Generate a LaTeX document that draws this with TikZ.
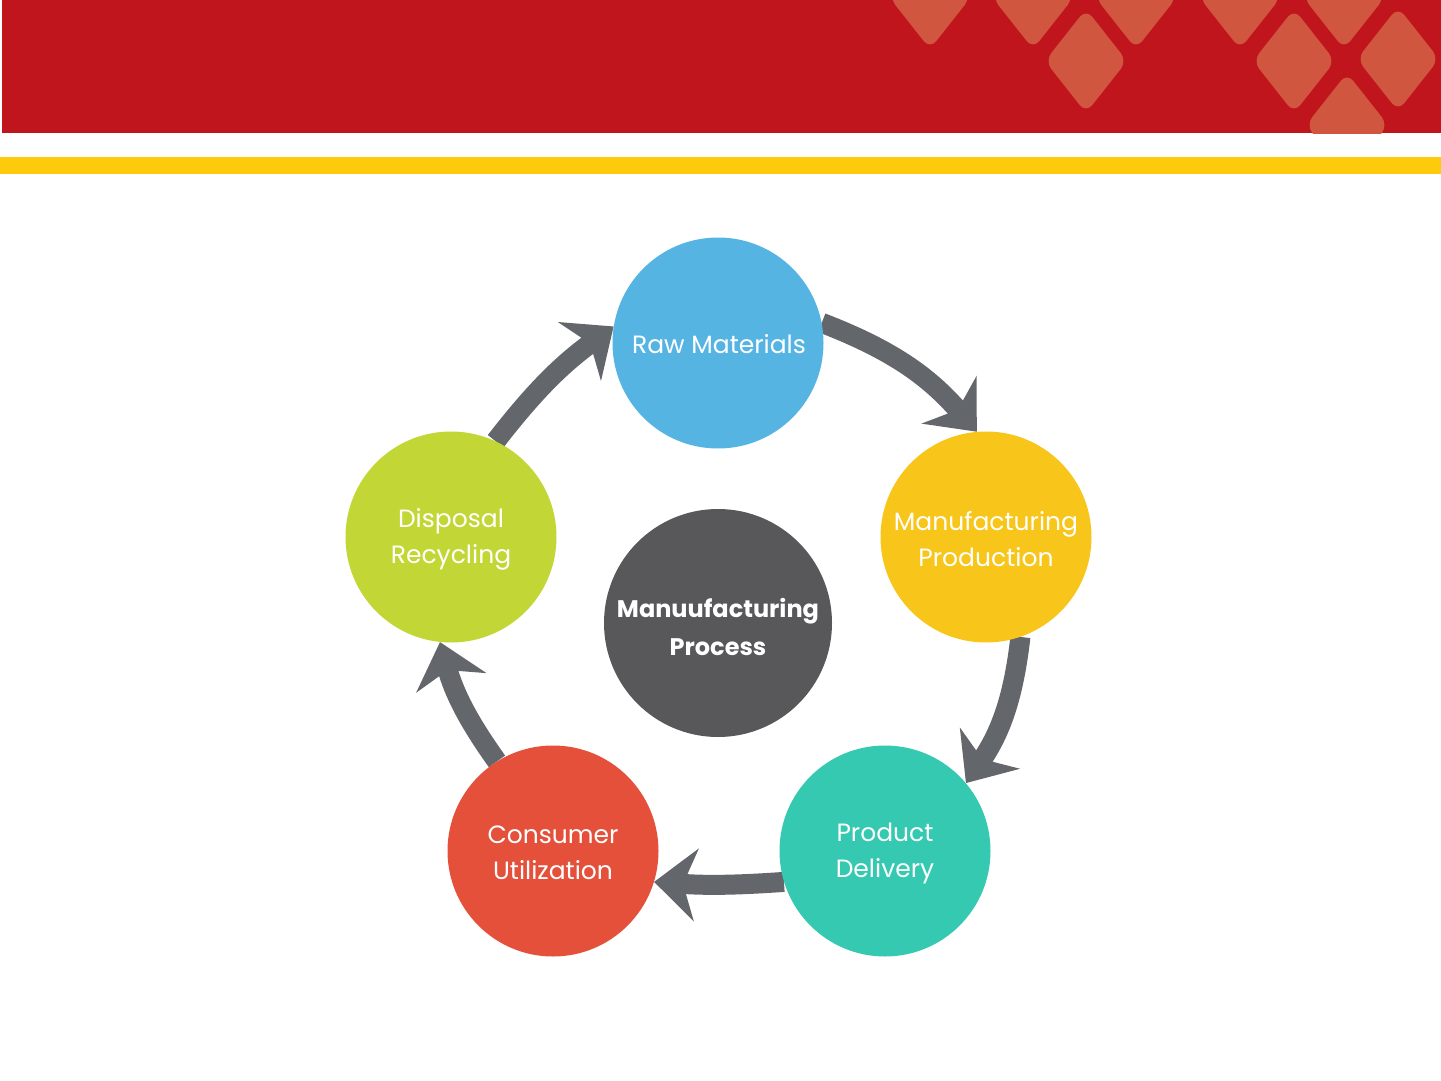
\documentclass[tikz,border=0pt]{standalone}
\usepackage{fontspec}
\setmainfont{Poppins}
\usetikzlibrary{arrows.meta}
\definecolor{bannerred}{HTML}{C1151D}
\definecolor{diamondred}{HTML}{D0563F}
\definecolor{bannergold}{HTML}{FDCB0B}
\definecolor{rawblue}{HTML}{56B4E3}
\definecolor{manyellow}{HTML}{F8C51A}
\definecolor{prodteal}{HTML}{36C9B1}
\definecolor{consred}{HTML}{E5503B}
\definecolor{dispgreen}{HTML}{C2D735}
\definecolor{coregray}{HTML}{58575A}
\definecolor{arrowgray}{HTML}{63666B}
\pgfdeclarelayer{bg}
\pgfdeclarelayer{paper}
\pgfsetlayers{paper,bg,main}
\begin{document}
\begin{tikzpicture}[x=1pt,y=1pt,
  stage/.style={circle, minimum size=211pt, inner sep=0pt},
  stagetext/.style={text=white, align=center, inner sep=0pt, font=\fontsize{25}{36}\selectfont},
  flow/.style={line width=20pt, draw=arrowgray,
    -{Stealth[length=42pt,width=72pt,inset=13pt]}},
  tile/.style={fill=diamondred, rounded corners=10pt}
]
\useasboundingbox (0,0) rectangle (1441,-1081);
\begin{pgfonlayer}{paper}
\fill[white] (0,0) rectangle (1441,-1081);
\end{pgfonlayer}
% banner
\fill[bannerred] (2,0) rectangle (1441,-133);
\begin{scope}
  \clip (2,0) rectangle (1441,-133);
  \foreach \cx/\cy in {930/3, 1033/3, 1136/3, 1240/3, 1344/3, 1086/-61, 1294/-61, 1398/-59, 1347/-125} {
    \fill[tile] ({\cx},{\cy+52}) -- ({\cx+41},{\cy}) -- ({\cx},{\cy-52}) -- ({\cx-41},{\cy}) -- cycle;
  }
\end{scope}
\fill[bannergold] (0,-157) rectangle (1441,-174);
% stages
\node[stage, fill=rawblue] (raw) at (718,-343) {};
\node[stage, fill=manyellow] (man) at (986,-537) {};
\node[stage, fill=prodteal] (prod) at (885,-851) {};
\node[stage, fill=consred] (cons) at (553,-851) {};
\node[stage, fill=dispgreen] (disp) at (451,-537) {};
\node[circle, minimum size=228pt, inner sep=0pt, fill=coregray] (core) at (718,-623) {};
\node[stagetext] (rawtext) at (719,-344) {Raw Materials};
\node[stagetext] (mantext) at (986,-539) {Manufacturing\\Production};
\node[stagetext] (prodtext) at (885,-853) {Product\\Delivery};
\node[stagetext] (constext) at (553,-853) {Consumer\\Utilization};
\node[stagetext] (disptext) at (451,-539) {Disposal\\Recycling};
\node[text=white, align=center, inner sep=0pt, font=\fontsize{24}{38}\selectfont\bfseries]
  (coretext) at (718,-627) {Manuufacturing\\Process};
% arrows
\begin{pgfonlayer}{bg}
\draw[flow] (raw.11) to[bend left=14] (man.95);
\draw[flow] (man.-71) to[bend left=14] (prod.40);
\draw[flow] (prod.197) to[bend left=4] (cons.-17);
\draw[flow] (cons.122) to[bend left=10] (disp.-96);
\draw[flow] (disp.65) to[bend left=8] (raw.171);
\end{pgfonlayer}
\end{tikzpicture}
\end{document}
